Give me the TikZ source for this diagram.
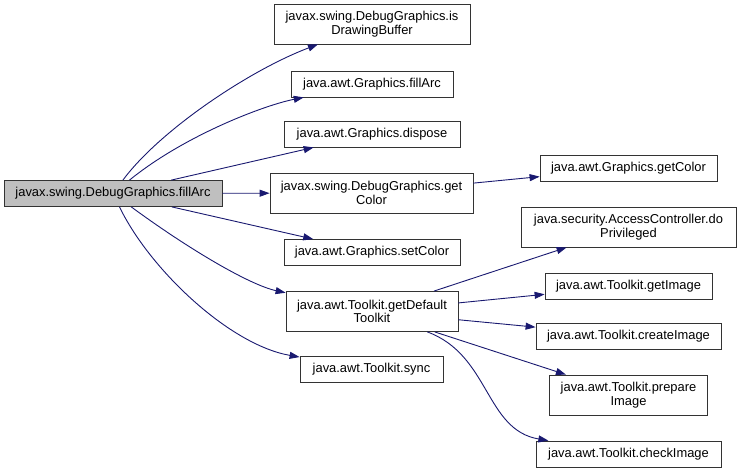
\documentclass[tikz,border=0pt]{standalone}
\usepackage{fontspec}
\setmainfont{Liberation Sans}
\usepackage{xcolor}
\usepackage{tikz}
\usetikzlibrary{arrows.meta}
\definecolor{edgeblue}{HTML}{191970}
\definecolor{maingrey}{HTML}{BFBFBF}

\begin{document}
\begin{tikzpicture}[x=1pt, y=-1pt, >={Triangle[length=10pt, width=7pt]},
    fn/.style={draw=black!80, fill=white, line width=0.8pt, inner sep=0pt,
        align=center, font=\fontsize{12.9}{13.5}\selectfont},
    onel/.style={fn, minimum height=26pt},
    twol/.style={fn, minimum height=40pt},
    call/.style={->, draw=edgeblue, line width=0.9pt}]
            \useasboundingbox (0,0) rectangle (741,473);

            % Hàm gốc
            \node[onel, fill=maingrey, minimum width=218pt] (main) at (113,193.5) {javax.swing.DebugGraphics.fillArc};

            % Các hàm được gọi trực tiếp
            \node[twol, minimum width=196pt] (idb) at (372,24) {javax.swing.DebugGraphics.is\\DrawingBuffer};
            \node[onel, minimum width=162pt] (gfa) at (372,84) {java.awt.Graphics.fillArc};
            \node[onel, minimum width=176pt] (disp) at (372,134) {java.awt.Graphics.dispose};
            \node[twol, minimum width=203pt] (dgc) at (371.5,193) {javax.swing.DebugGraphics.get\\Color};
            \node[onel, minimum width=176pt] (setc) at (372,252.5) {java.awt.Graphics.setColor};
            \node[twol, minimum width=172pt] (gdt) at (372,311.5) {java.awt.Toolkit.getDefault\\Toolkit};
            \node[onel, minimum width=143pt] (sync) at (371.5,369.5) {java.awt.Toolkit.sync};

            % Các hàm ở mức thứ hai
            \node[onel, minimum width=177pt] (ggc) at (628.5,168) {java.awt.Graphics.getColor};
            \node[twol, minimum width=215pt] (priv) at (628.5,227) {java.security.AccessController.do\\Privileged};
            \node[onel, minimum width=167pt] (gimg) at (628.5,286) {java.awt.Toolkit.getImage};
            \node[onel, minimum width=185pt] (cimg) at (628.5,336) {java.awt.Toolkit.createImage};
            \node[twol, minimum width=158pt] (pimg) at (628.5,395) {java.awt.Toolkit.prepare\\Image};
            \node[onel, minimum width=185pt] (chk) at (628.5,454) {java.awt.Toolkit.checkImage};

            % Mũi tên từ hàm gốc
            \draw[call] (main) .. controls (160,130) and (250,70) .. (idb);
            \draw[call] (main) .. controls (185,135) and (265,105) .. (gfa);
            \draw[call] (main) -- (disp);
            \draw[call] (main) -- (dgc);
            \draw[call] (main) -- (setc);
            \draw[call] (main) .. controls (190,250) and (250,285) .. (gdt);
            \draw[call] (main) .. controls (150,270) and (230,345) .. (sync);

            % Mũi tên ở mức thứ hai
            \draw[call] (dgc) -- (ggc);
            \draw[call] (gdt) -- (priv);
            \draw[call] (gdt) -- (gimg);
            \draw[call] (gdt) -- (cimg);
            \draw[call] (gdt) -- (pimg);
            \draw[call] (gdt) .. controls (490,355) and (485,430) .. (chk);
        \end{tikzpicture}
\end{document}
